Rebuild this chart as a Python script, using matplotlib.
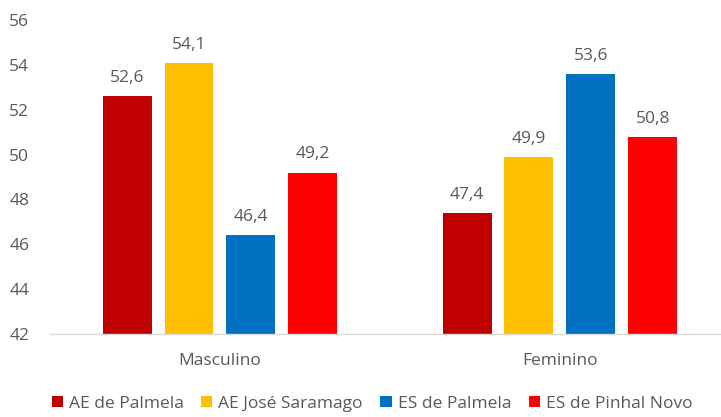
import numpy as np
import matplotlib.pyplot as plt

# ================= DATA =================
categories = ["Masculino", "Feminino"]
series = ["AE de Palmela", "AE José Saramago", "ES de Palmela", "ES de Pinhal Novo"]
values = [
    [52.6, 47.4],
    [54.1, 49.9],
    [46.4, 53.6],
    [49.2, 50.8],
]
colors = ["#C00000", "#FFC000", "#0070C0", "#FF0000"]
yticks = [42, 44, 46, 48, 50, 52, 54, 56]

TXT = "#595959"
FS = 12.5
plt.rcParams["font.family"] = ["Open Sans", "DejaVu Sans"]

# ================= PLOT =================
fig = plt.figure(figsize=(7.21, 4.17), dpi=100)
ax = fig.add_axes([0.0693, 0.199, 0.9307, 0.753])

x = np.arange(len(categories))
width = 0.144
step = 0.182
offsets = (np.arange(len(series)) - 1.5) * step

for i, name in enumerate(series):
    bars = ax.bar(x + offsets[i], values[i], width, bottom=0,
                  color=colors[i], label=name, zorder=2)
    for b, v in zip(bars, values[i]):
        ax.text(b.get_x() + b.get_width() / 2, v + 0.45,
                f"{v:.1f}".replace(".", ","), ha="center", va="bottom",
                fontsize=FS, color=TXT)

ax.set_ylim(42, 56)
ax.set_xlim(-0.5, 1.474)
ax.set_yticks(yticks)
ax.set_xticks(x)
ax.set_xticklabels(categories)
ax.tick_params(axis="both", length=0, labelsize=FS, colors=TXT)
ax.tick_params(axis="x", pad=14)
ax.tick_params(axis="y", pad=15)

for s in ["top", "right", "left"]:
    ax.spines[s].set_visible(False)
ax.spines["bottom"].set_color("#D9D9D9")
ax.spines["bottom"].set_linewidth(1)

leg = fig.legend(loc="lower center", bbox_to_anchor=(0.516, -0.025), ncol=4,
                 frameon=False, fontsize=FS, handlelength=0.65,
                 handleheight=0.65, handletextpad=0.35, columnspacing=1.0)
for t in leg.get_texts():
    t.set_color(TXT)

plt.savefig("out.png", dpi=100)
plt.close()
